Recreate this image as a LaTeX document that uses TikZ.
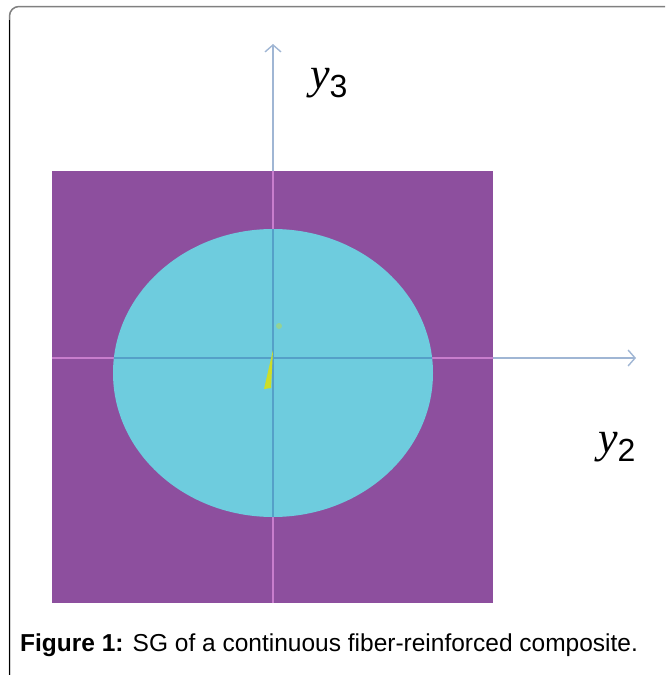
\documentclass[tikz,border=0pt]{standalone}
\usepackage{fontspec}
\setmainfont{Liberation Sans}
\newfontfamily\labelfont{Liberation Serif}
\usetikzlibrary{arrows.meta}
\definecolor{matrixpurple}{RGB}{141,79,158}
\definecolor{fibercyan}{RGB}{110,204,222}
\definecolor{axisblue}{RGB}{160,182,212}
\definecolor{axisdark}{RGB}{85,160,200}
\definecolor{axispink}{RGB}{200,125,205}
\definecolor{sliveryellow}{RGB}{205,222,40}
\tikzset{
  axisline/.style={line width=1.4pt},
  axistip/.style={-{Straight Barb[length=7pt, width=16pt, line width=1.4pt]}},
  axislabel/.style={font=\fontsize{44}{44}\selectfont\labelfont\itshape, inner sep=0pt}
}
\newcommand{\subnum}[1]{\raisebox{-9pt}{\normalfont\fontsize{32}{32}\selectfont #1}}
\begin{document}
\begin{tikzpicture}[x=1pt, y=-1pt]
      \useasboundingbox (0,0) rectangle (665,675);

      % Frame
      \draw[line width=1.5pt, gray] (9.5,675) -- (9.5,16) arc (180:270:9.5) -- (665,6.5);
      \draw[line width=1.5pt, black] (9.5,675) -- (9.5,20);

      % Matrix
      \fill[matrixpurple] (52,171) rectangle (493,603);

      % Fiber
      \fill[fibercyan] (273,373) ellipse [x radius=160, y radius=144];

      % Axes
      \coordinate (O) at (273,358);
      \coordinate (Y2) at (636,358);
      \coordinate (Y3) at (273,44);
      \coordinate (L) at (52,358);
      \coordinate (B) at (273,603);
      \draw[axisline, axisblue, axistip] (L) -- (Y2);
      \draw[axisline, axisblue, axistip] (B) -- (Y3);
      \begin{scope}
        \clip (52,171) rectangle (493,603);
        \draw[axisline, axispink] (L) -- (Y2) (B) -- (Y3);
        \clip (273,373) ellipse [x radius=160, y radius=144];
        \draw[axisline, axisdark] (L) -- (Y2) (B) -- (Y3);
      \end{scope}

      % Sliver at the origin
      \fill[sliveryellow] (264,389) -- (271,388) -- (273,350) -- cycle;
      \fill[sliveryellow!40!fibercyan] (279,326) circle (3);

      % Labels
      \node (lab3) [axislabel, anchor=base west] at (310,88) {y\subnum{3}};
      \node (lab2) [axislabel, anchor=base west] at (598,452) {y\subnum{2}};

      % Caption
      \node (cap) [anchor=base west, inner sep=0pt, font=\fontsize{24.5}{24.5}\selectfont] at (20,651)
        {\textbf{Figure 1:} SG of a continuous fiber-reinforced composite.};
    \end{tikzpicture}
\end{document}
